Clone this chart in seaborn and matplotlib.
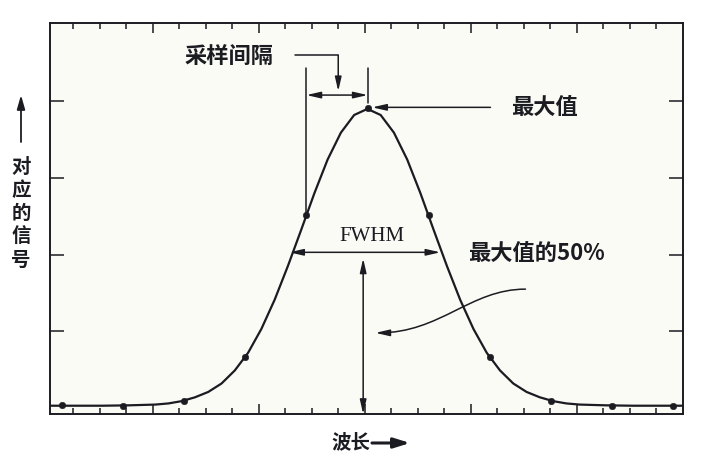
import matplotlib
matplotlib.use("Agg")
import matplotlib.pyplot as plt
from matplotlib.patches import FancyArrowPatch
from matplotlib.path import Path
import numpy as np
import pandas as pd
import seaborn as sns

# sampled points (x in tick units, y in signal units)
sample_x = [-0.42, 1.89, 4.19, 6.50, 8.80, 11.11, 13.42, 15.72, 18.03, 20.33, 22.64]
sample_y = [0.04, 0.03, 0.09, 0.66, 2.52, 3.91, 2.52, 0.66, 0.09, 0.03, 0.03]

# smooth spectral line
curve_x = [-0.9, 0.1, 1.1, 2.1, 3.1, 3.6, 4.1, 4.6, 5.1, 5.6, 6.1, 6.6, 7.1, 7.6, 8.1, 8.6,
           9.1, 9.6, 10.1, 10.6, 11.1, 11.6, 12.1, 12.6, 13.1, 13.6, 14.1, 14.6, 15.1, 15.6,
           16.1, 16.6, 17.1, 17.6, 18.1, 18.6, 19.1, 20.1, 21.1, 22.1, 23.1]
curve_y = [0.03, 0.03, 0.03, 0.035, 0.045, 0.06, 0.09, 0.14, 0.21, 0.32, 0.49, 0.72, 1.03, 1.41,
           1.85, 2.32, 2.80, 3.24, 3.59, 3.82, 3.90, 3.82, 3.59, 3.24, 2.80, 2.32, 1.85, 1.41,
           1.03, 0.72, 0.49, 0.32, 0.21, 0.14, 0.09, 0.06, 0.045, 0.035, 0.03, 0.03, 0.03]

x_major = [3, 7, 11, 15, 19]
x_minor = [0, 1, 2, 4, 5, 6, 8, 9, 10, 12, 13, 14, 16, 17, 18, 20, 21, 22]
y_ticks = [1, 2, 3, 4]

curve = pd.DataFrame({"x": curve_x, "y": curve_y})
samples = pd.DataFrame({"x": sample_x, "y": sample_y})

sns.set_theme(style="ticks")
cjk = ['Noto Sans CJK SC', 'DejaVu Sans']
plt.rcParams['font.family'] = cjk

ink = "#1b1b22"
fig = plt.figure(figsize=(7.01, 4.55), dpi=100, facecolor="white")
ax = fig.add_axes([0.0713, 0.0901, 0.903, 0.8594])
ax.set_facecolor("#fbfbf5")

sns.lineplot(data=curve, x="x", y="y", ax=ax, color=ink, lw=1.6, sort=False)
sns.scatterplot(data=samples, x="x", y="y", ax=ax, color=ink, s=22, edgecolor=ink, zorder=5)

ax.set_xlim(-0.87, 23.0)
ax.set_ylim(-0.078, 5.02)
ax.set_xticks(x_major)
ax.set_xticks(x_minor, minor=True)
ax.set_yticks(y_ticks)
ax.set_xticklabels([])
ax.set_yticklabels([])
ax.set_xlabel("")
ax.set_ylabel("")
ax.tick_params(axis="x", which="major", direction="in", length=7, width=1.1, top=True, bottom=True, color=ink)
ax.tick_params(axis="x", which="minor", direction="in", length=4.5, width=1.1, top=True, bottom=True, color=ink)
ax.tick_params(axis="y", which="major", direction="in", length=10, width=1.1, left=True, right=True, color=ink)
for s in ax.spines.values():
    s.set_linewidth(1.4)
    s.set_color(ink)

head = "-|>,head_length=0.7,head_width=0.16"
dbl = "<|-|>,head_length=0.7,head_width=0.16"
lw = 1.1

# sampling interval
ax.plot([8.80, 8.80], [2.52, 4.43], color=ink, lw=lw)
ax.plot([11.11, 11.11], [3.98, 4.43], color=ink, lw=lw)
ax.annotate("", xy=(11.11, 4.08), xytext=(8.80, 4.08),
            arrowprops=dict(arrowstyle=dbl, color=ink, lw=lw, shrinkA=0, shrinkB=0))
ax.plot([8.38, 10.0], [4.60, 4.60], color=ink, lw=lw)
ax.annotate("", xy=(10.0, 4.13), xytext=(10.0, 4.60),
            arrowprops=dict(arrowstyle=head, color=ink, lw=lw, shrinkA=0, shrinkB=0))
ax.text(5.87, 4.58, "采样间隔", ha="center", va="center", fontsize=16, fontweight="bold",
        family=cjk, color=ink)

# maximum
ax.annotate("", xy=(11.28, 3.92), xytext=(15.74, 3.92),
            arrowprops=dict(arrowstyle=head, color=ink, lw=lw, shrinkA=0, shrinkB=0))
ax.text(16.5, 3.92, "最大值", ha="left", va="center", fontsize=16, fontweight="bold",
        family=cjk, color=ink)

# FWHM
ax.annotate("", xy=(13.85, 2.03), xytext=(8.15, 2.03),
            arrowprops=dict(arrowstyle=dbl, color=ink, lw=lw, shrinkA=0, shrinkB=0))
ax.text(11.28, 2.23, "FWHM", ha="center", va="center", fontsize=15,
        family="Liberation Serif", color=ink)
ax.annotate("", xy=(10.94, 1.95), xytext=(10.94, -0.078),
            arrowprops=dict(arrowstyle=dbl, color=ink, lw=lw, shrinkA=0, shrinkB=0))
ax.text(14.9, 2.02, "最大值的50%", ha="left", va="center", fontsize=16, fontweight="bold",
        family=cjk, color=ink)

# curved pointer to the half-height arrow
verts = [(17.06, 1.55), (14.98, 1.55), (13.85, 0.98), (11.40, 0.98)]
codes = [Path.MOVETO, Path.CURVE4, Path.CURVE4, Path.CURVE4]
ax.add_patch(FancyArrowPatch(path=Path(verts, codes), arrowstyle=head, color=ink, lw=lw,
                             mutation_scale=12, transform=ax.transData, shrinkA=0, shrinkB=0))

# axis labels
fig.text(351 / 701, 1 - 443 / 455, "波长", ha="center", va="center", fontsize=14,
         fontweight="bold", family=cjk, color=ink)
ax.annotate("", xy=(410, 12), xytext=(372, 12), xycoords="figure pixels", textcoords="figure pixels",
            arrowprops=dict(arrowstyle="-|>,head_length=0.8,head_width=0.25", color=ink, lw=2.2,
                            shrinkA=0, shrinkB=0), annotation_clip=False)
fig.text(21 / 701, 1 - 214 / 455, "\n".join("对应的信号"), ha="center", va="center", fontsize=14,
         fontweight="bold", family=cjk, color=ink, linespacing=1.28)
ax.annotate("", xy=(21, 360), xytext=(21, 313), xycoords="figure pixels", textcoords="figure pixels",
            arrowprops=dict(arrowstyle="-|>,head_length=0.7,head_width=0.2", color=ink, lw=1.3,
                            shrinkA=0, shrinkB=0), annotation_clip=False)

fig.savefig("out.png", dpi=100, facecolor="white")
